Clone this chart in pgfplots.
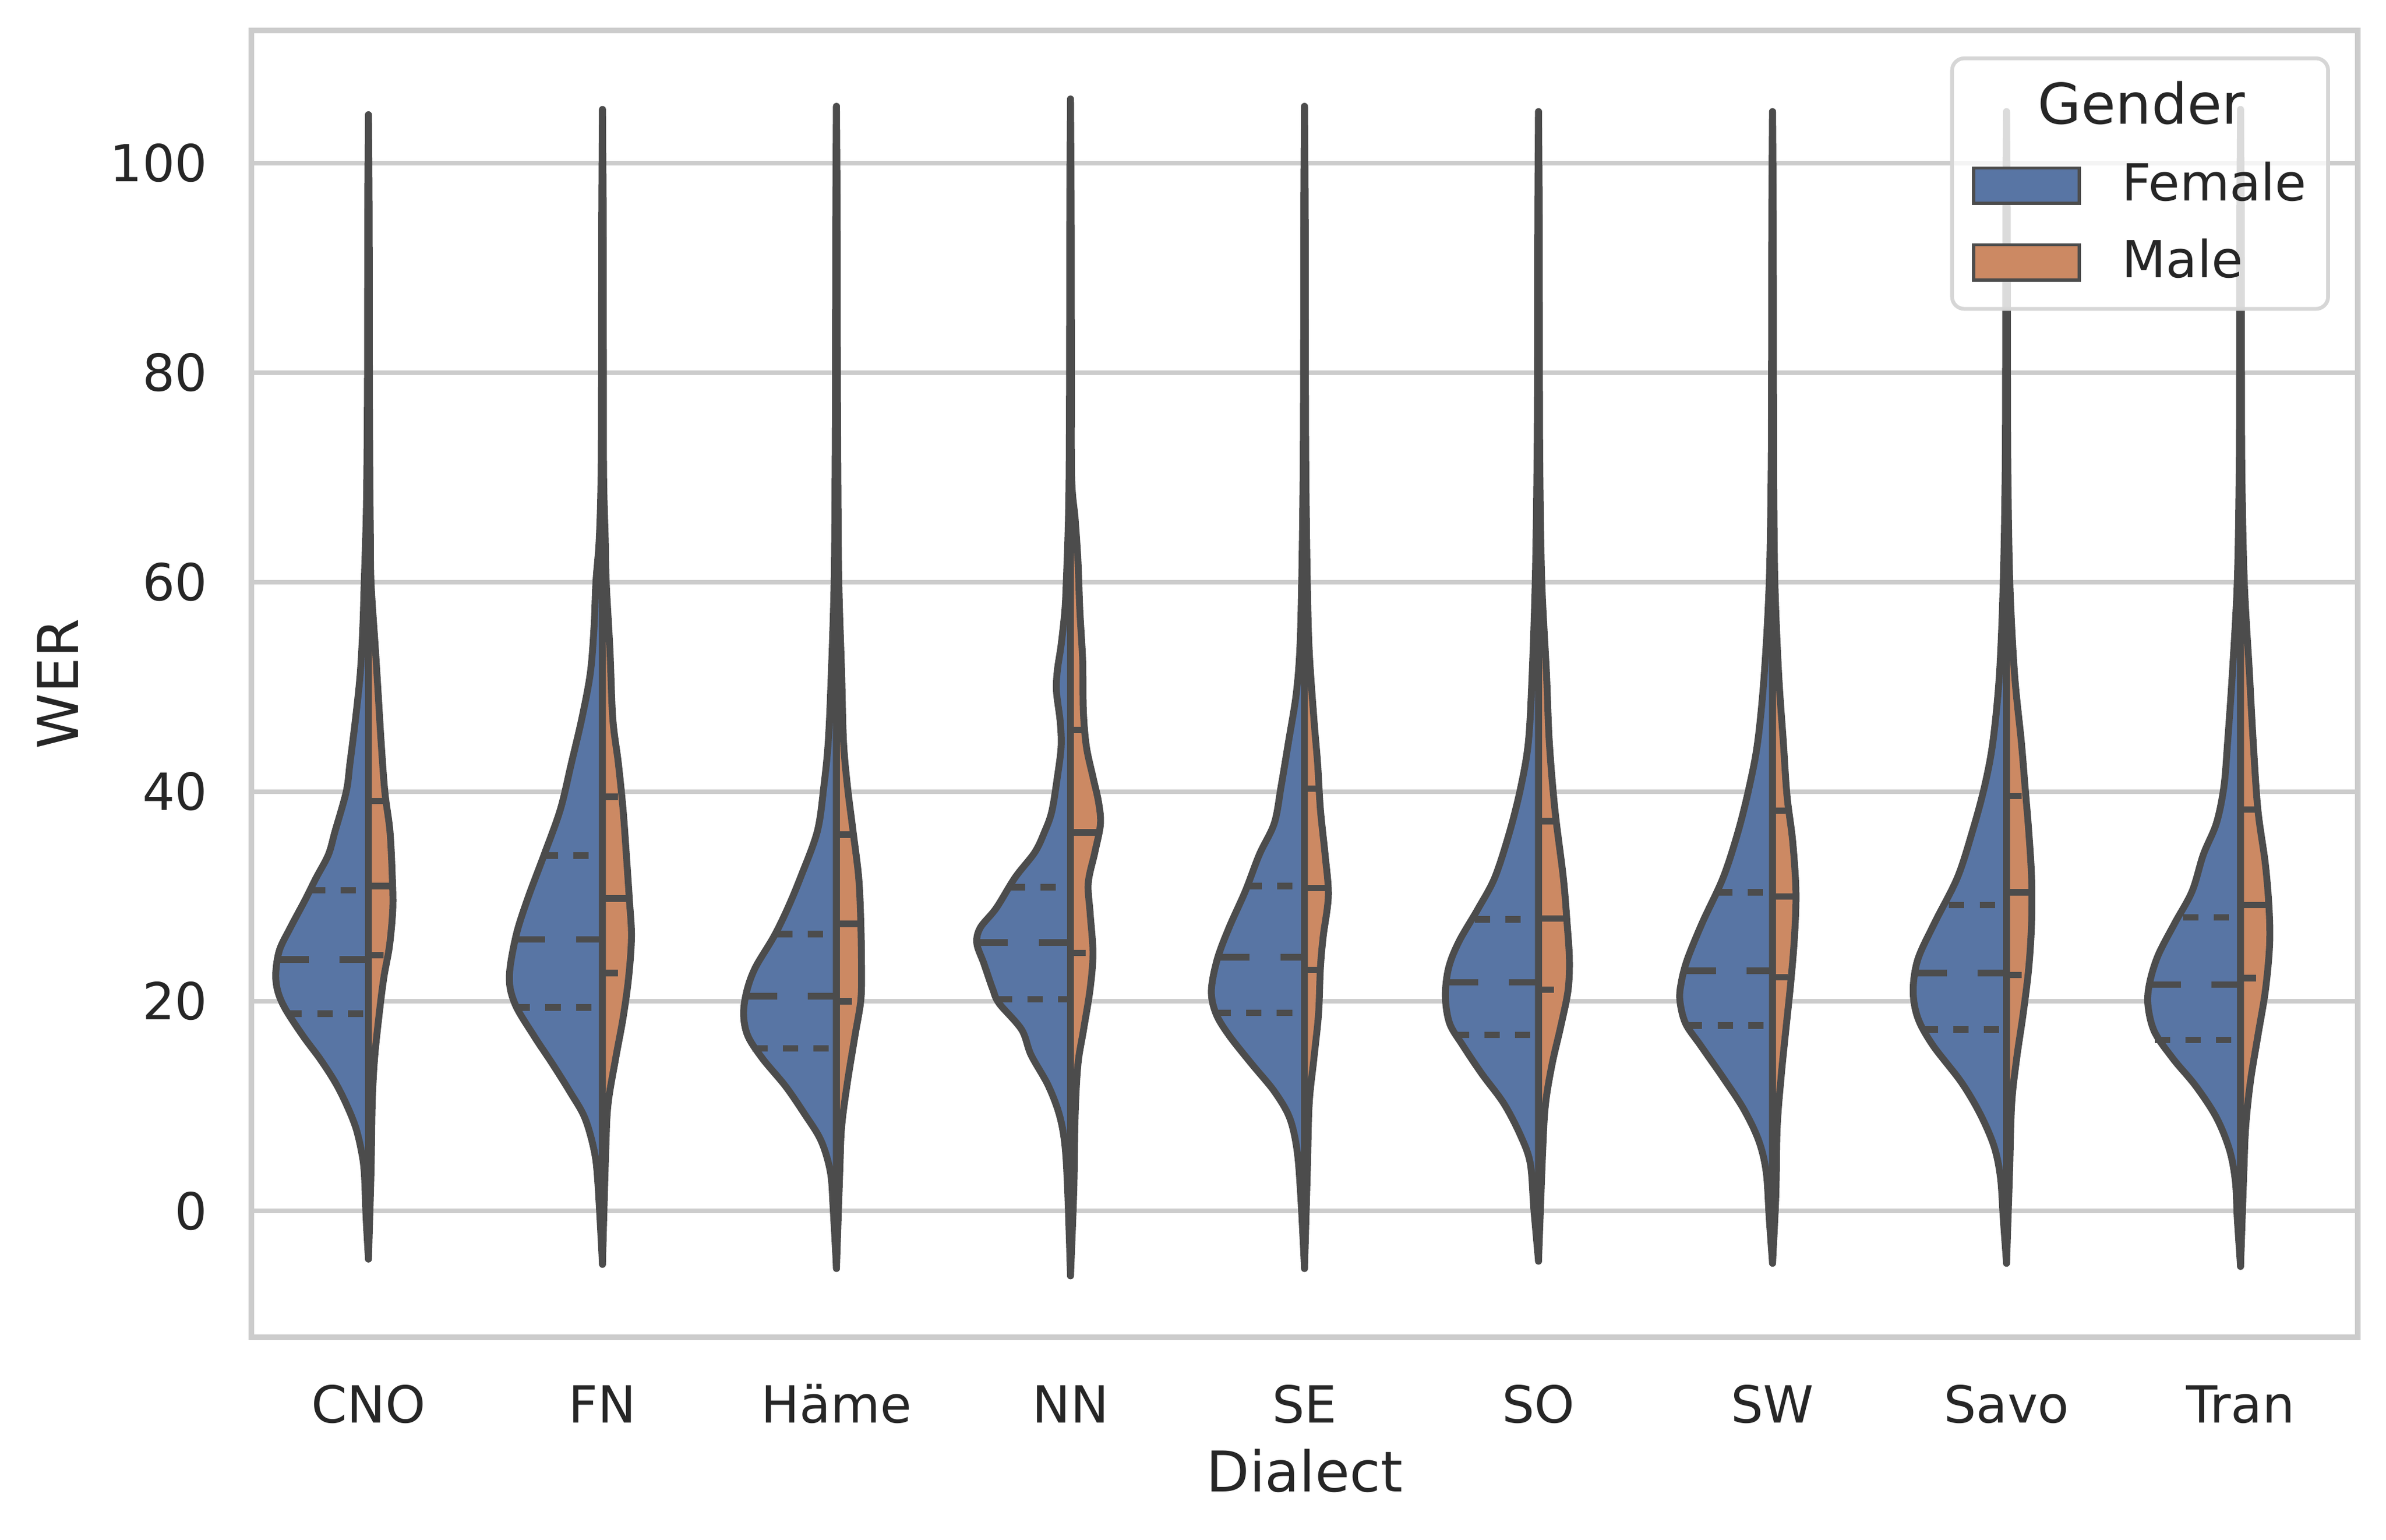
\documentclass[border=0pt]{standalone}
\usepackage{fontspec}
\setmainfont{DejaVu Sans}
\usepackage{pgfplots}
\pgfplotsset{compat=1.18}

\definecolor{femcol}{HTML}{5875A4}
\definecolor{malcol}{HTML}{CC8963}
\definecolor{edge}{HTML}{4C4C4C}
\definecolor{gridgray}{HTML}{CCCCCC}
\definecolor{leggray}{HTML}{D6D6D6}
\definecolor{textgray}{HTML}{262626}

\pgfplotsset{
  half/.style={forget plot, smooth, tension=0.55, draw=edge, line width=1.28pt, line join=round, line cap=round},
  fem/.style={half, fill=femcol},
  mal/.style={half, fill=malcol},
  quart/.style={forget plot, draw=edge, line width=1.22pt, dash pattern=on 2.85pt off 2.85pt},
  med/.style={forget plot, draw=edge, line width=1.22pt, dash pattern=on 5.7pt off 5.7pt},
}

\begin{document}
\begin{tikzpicture}
\useasboundingbox (0,0) rectangle (15.6,10.07);
\begin{axis}[
    at={(16.44mm,13.25mm)}, anchor=south west,
    scale only axis, width=137.7mm, height=85.46mm,
    xmin=-0.5, xmax=8.5, ymin=-12.06, ymax=112.65,
    xtick={0,...,8},
    xticklabels={CNO,FN,Häme,NN,SE,SO,SW,Savo,Tran},
    ytick={0,20,...,100},
    major tick length=0,
    ymajorgrids,
    grid style={gridgray, line width=0.84pt},
    axis line style={gridgray, line width=1.05pt},
    /pgf/number format/assume math mode=true,
    tick label style={font=\fontsize{9.5}{11}\selectfont, color=textgray},
    xticklabel style={anchor=base, inner sep=0pt, yshift=-5.6mm},
    yticklabel style={anchor=east, inner sep=0pt, xshift=-2.8mm},
    label style={font=\fontsize{10.45}{12}\selectfont, color=textgray},
    xlabel={Dialect}, ylabel={WER},
    xlabel style={at={(axis description cs:0.5,-0.102)}, anchor=center},
    ylabel style={at={(axis description cs:-0.092,0.5)}, anchor=center},
    legend cell align=left,
    legend image code/.code={\path (-0.6mm,0) (0,0);
      \draw[#1, sharp corners, fill opacity=1, draw opacity=1] (0mm,-1.15mm) rectangle (6.9mm,1.15mm);},
    legend style={at={(rel axis cs:1,1)}, anchor=north east, xshift=-1.8mm, yshift=-1.7mm,
      draw=leggray, line width=0.7pt, rounded corners=0.8mm, fill=white,
      fill opacity=0.8, text opacity=1,
      inner xsep=0.7mm, inner ysep=0.8mm, row sep=1.6pt, column sep=2.0mm,
      font=\fontsize{9.5}{11}\selectfont, text=textgray,
      nodes={inner sep=2pt, fill opacity=1, draw opacity=1, text opacity=1}},
]

% ---------- CNO ----------
\addplot[fem] table[x expr=0-\thisrow{w}, y=y, row sep=\\] {
y w\\ 104.6 0\\ 95 0.003\\ 80 0.004\\ 70 0.007\\ 65 0.011\\ 60 0.018\\ 55.7 0.024\\
51.3 0.035\\ 47 0.055\\ 42.7 0.079\\ 40 0.095\\ 36.2 0.143\\ 34 0.171\\ 31.8 0.223\\
29.7 0.27\\ 27.1 0.332\\ 24.9 0.38\\ 22.7 0.396\\ 21 0.388\\ 19.3 0.356\\ 16.7 0.28\\
14.5 0.207\\ 12.3 0.143\\ 10.2 0.095\\ 8 0.055\\ 5.8 0.031\\ 3.7 0.018\\ -0.7 0.01\\ -4.6 0\\
} -- cycle;
\addplot[mal] table[x expr=0+\thisrow{w}, y=y, row sep=\\] {
y w\\ 104.6 0\\ 95 0.003\\ 80 0.004\\ 70 0.006\\ 65 0.008\\ 60 0.011\\ 53.5 0.03\\
49.2 0.042\\ 44.8 0.054\\ 40 0.07\\ 36.2 0.092\\ 31.8 0.102\\ 28.8 0.104\\ 25.3 0.09\\
22.3 0.066\\ 18.8 0.046\\ 14.5 0.026\\ 10.2 0.016\\ 3.7 0.011\\ -4.6 0\\
} -- cycle;
\addplot[quart] coordinates {(-0.35,18.8) (0,18.8)};
\addplot[med] coordinates {(-0.385,24.0) (0,24.0)};
\addplot[quart] coordinates {(-0.25,30.6) (0,30.6)};
\addplot[quart] coordinates {(0,24.4) (0.078,24.4)};
\addplot[med] coordinates {(0,31.0) (0.098,31.0)};
\addplot[quart] coordinates {(0,39.1) (0.064,39.1)};

% ---------- FN ----------
\addplot[fem] table[x expr=1-\thisrow{w}, y=y, row sep=\\] {
y w\\ 105.1 0\\ 95 0.003\\ 80 0.004\\ 70 0.006\\ 64 0.014\\ 60 0.028\\ 55.7 0.036\\
51.3 0.052\\ 47 0.088\\ 42.7 0.133\\ 38.3 0.18\\ 34 0.249\\ 29.7 0.321\\ 26.2 0.37\\
22.3 0.398\\ 19.7 0.373\\ 16.7 0.293\\ 14 0.213\\ 11.4 0.14\\ 8.9 0.076\\ 5.8 0.036\\
2.8 0.02\\ -5.1 0\\
} -- cycle;
\addplot[mal] table[x expr=1+\thisrow{w}, y=y, row sep=\\] {
y w\\ 105.1 0\\ 95 0.003\\ 80 0.004\\ 70 0.005\\ 64 0.012\\ 60 0.016\\ 53.5 0.032\\
47 0.044\\ 42.7 0.068\\ 38.3 0.088\\ 34 0.102\\ 29.7 0.115\\ 26.2 0.124\\ 22.3 0.112\\
18.4 0.088\\ 14.5 0.056\\ 10.2 0.024\\ 5.8 0.014\\ -5.1 0\\
} -- cycle;
\addplot[quart] coordinates {(0.625,19.4) (1,19.4)};
\addplot[med] coordinates {(0.625,25.9) (1,25.9)};
\addplot[quart] coordinates {(0.745,33.9) (1,33.9)};
\addplot[quart] coordinates {(1,22.7) (1.078,22.7)};
\addplot[med] coordinates {(1,29.8) (1.11,29.8)};
\addplot[quart] coordinates {(1,39.5) (1.077,39.5)};

% ---------- Häme ----------
\addplot[fem] table[x expr=2-\thisrow{w}, y=y, row sep=\\] {
y w\\ 105.4 0\\ 95 0.003\\ 80 0.004\\ 70 0.006\\ 60 0.01\\ 51.3 0.022\\ 44.8 0.035\\
40.5 0.054\\ 36.2 0.082\\ 31.8 0.154\\ 28.8 0.21\\ 26.2 0.267\\ 23.2 0.347\\ 21 0.383\\
18.8 0.397\\ 16.7 0.379\\ 14.5 0.315\\ 11.9 0.218\\ 9.3 0.138\\ 6.7 0.066\\ 3.7 0.026\\
0.2 0.014\\ -5.5 0\\
} -- cycle;
\addplot[mal] table[x expr=2+\thisrow{w}, y=y, row sep=\\] {
y w\\ 105.4 0\\ 95 0.003\\ 80 0.004\\ 70 0.006\\ 60 0.01\\ 51.3 0.022\\ 44.8 0.03\\
40.5 0.047\\ 36.2 0.071\\ 31.8 0.095\\ 27.5 0.104\\ 23.2 0.107\\ 20.1 0.104\\ 16.7 0.079\\
12.3 0.047\\ 8 0.022\\ 3.7 0.014\\ -5.5 0\\
} -- cycle;
\addplot[quart] coordinates {(1.64,15.5) (2,15.5)};
\addplot[med] coordinates {(1.615,20.5) (2,20.5)};
\addplot[quart] coordinates {(1.747,26.4) (2,26.4)};
\addplot[quart] coordinates {(2,20.0) (2.08,20.0)};
\addplot[med] coordinates {(2,27.4) (2.10,27.4)};
\addplot[quart] coordinates {(2,35.9) (2.066,35.9)};

% ---------- NN ----------
\addplot[fem] table[x expr=3-\thisrow{w}, y=y, row sep=\\] {
y w\\ 106.1 0\\ 95 0.003\\ 80 0.004\\ 70 0.006\\ 65 0.01\\ 60 0.018\\ 57.3 0.024\\
54 0.04\\ 51.6 0.056\\ 49.6 0.06\\ 46.7 0.044\\ 44.3 0.04\\ 41.4 0.056\\ 38.1 0.08\\
36.1 0.112\\ 34.2 0.153\\ 31.8 0.237\\ 28.9 0.317\\ 27 0.386\\ 25.5 0.4\\ 23.6 0.37\\
21.2 0.333\\ 19.8 0.305\\ 17.3 0.209\\ 14.9 0.169\\ 12 0.096\\ 9.2 0.048\\ 6.3 0.024\\
1.9 0.012\\ -6.2 0\\
} -- cycle;
\addplot[mal] table[x expr=3+\thisrow{w}, y=y, row sep=\\] {
y w\\ 106.1 0\\ 95 0.003\\ 80 0.004\\ 70 0.005\\ 66 0.02\\ 62 0.032\\ 57.3 0.04\\
52.5 0.052\\ 47.7 0.055\\ 44.3 0.068\\ 41.4 0.096\\ 39 0.12\\ 36.9 0.128\\ 34.2 0.104\\
31.3 0.076\\ 28.4 0.084\\ 24.6 0.096\\ 21.2 0.084\\ 17.3 0.056\\ 14 0.032\\ 9.2 0.02\\
1.9 0.014\\ -6.2 0\\
} -- cycle;
\addplot[quart] coordinates {(2.685,20.2) (3,20.2)};
\addplot[med] coordinates {(2.602,25.6) (3,25.6)};
\addplot[quart] coordinates {(2.74,30.9) (3,30.9)};
\addplot[quart] coordinates {(3,24.6) (3.078,24.6)};
\addplot[med] coordinates {(3,36.1) (3.126,36.1)};
\addplot[quart] coordinates {(3,45.9) (3.052,45.9)};

% ---------- SE ----------
\addplot[fem] table[x expr=4-\thisrow{w}, y=y, row sep=\\] {
y w\\ 105.4 0\\ 95 0.003\\ 80 0.004\\ 70 0.006\\ 60 0.012\\ 53.5 0.02\\ 49.2 0.036\\
44.8 0.068\\ 40.5 0.1\\ 37 0.129\\ 34 0.193\\ 30.5 0.253\\ 27.1 0.321\\ 24 0.373\\
21 0.398\\ 18.8 0.378\\ 16.7 0.321\\ 14 0.225\\ 11.4 0.129\\ 8.9 0.064\\ 5.8 0.032\\
1.4 0.016\\ -5.5 0\\
} -- cycle;
\addplot[mal] table[x expr=4+\thisrow{w}, y=y, row sep=\\] {
y w\\ 105.4 0\\ 95 0.003\\ 80 0.004\\ 70 0.006\\ 60 0.012\\ 53.5 0.02\\ 47 0.04\\
42.7 0.056\\ 38.3 0.068\\ 34 0.088\\ 30.1 0.102\\ 26.2 0.08\\ 23.2 0.068\\ 18.8 0.06\\
14.5 0.04\\ 10.2 0.02\\ 3.7 0.012\\ -5.5 0\\
} -- cycle;
\addplot[quart] coordinates {(3.62,18.9) (4,18.9)};
\addplot[med] coordinates {(3.635,24.2) (4,24.2)};
\addplot[quart] coordinates {(3.753,31.0) (4,31.0)};
\addplot[quart] coordinates {(4,23.0) (4.065,23.0)};
\addplot[med] coordinates {(4,30.8) (4.098,30.8)};
\addplot[quart] coordinates {(4,40.3) (4.054,40.3)};

% ---------- SO ----------
\addplot[fem] table[x expr=5-\thisrow{w}, y=y, row sep=\\] {
y w\\ 104.9 0\\ 95 0.003\\ 80 0.004\\ 70 0.007\\ 60 0.014\\ 51.3 0.027\\ 44.8 0.043\\
40.5 0.075\\ 36.2 0.123\\ 31.8 0.187\\ 28.8 0.259\\ 25.7 0.34\\ 23.2 0.384\\ 20.5 0.398\\
17.9 0.38\\ 15.8 0.324\\ 13.1 0.243\\ 10.2 0.147\\ 7.1 0.075\\ 4.5 0.035\\ 0.2 0.02\\ -4.8 0\\
} -- cycle;
\addplot[mal] table[x expr=5+\thisrow{w}, y=y, row sep=\\] {
y w\\ 104.9 0\\ 95 0.003\\ 80 0.004\\ 70 0.006\\ 60 0.014\\ 51.3 0.034\\ 44.8 0.046\\
38.3 0.07\\ 31.8 0.106\\ 27.5 0.122\\ 24 0.132\\ 21 0.126\\ 17.5 0.094\\ 14 0.058\\
10.2 0.03\\ 5.8 0.018\\ -4.8 0\\
} -- cycle;
\addplot[quart] coordinates {(4.638,16.8) (5,16.8)};
\addplot[med] coordinates {(4.612,21.8) (5,21.8)};
\addplot[quart] coordinates {(4.727,27.8) (5,27.8)};
\addplot[quart] coordinates {(5,21.1) (5.078,21.1)};
\addplot[med] coordinates {(5,27.9) (5.12,27.9)};
\addplot[quart] coordinates {(5,37.2) (5.073,37.2)};

% ---------- SW ----------
\addplot[fem] table[x expr=6-\thisrow{w}, y=y, row sep=\\] {
y w\\ 104.9 0\\ 95 0.003\\ 80 0.004\\ 70 0.006\\ 60 0.014\\ 51.3 0.035\\ 44.8 0.063\\
40.5 0.099\\ 36.2 0.147\\ 31.8 0.211\\ 27.5 0.3\\ 24 0.364\\ 21.8 0.39\\ 20.1 0.396\\
17.9 0.372\\ 15.8 0.308\\ 12.7 0.211\\ 9.7 0.123\\ 6.7 0.059\\ 3.7 0.027\\ -0.7 0.014\\ -5.0 0\\
} -- cycle;
\addplot[mal] table[x expr=6+\thisrow{w}, y=y, row sep=\\] {
y w\\ 104.9 0\\ 95 0.003\\ 80 0.004\\ 70 0.005\\ 60 0.01\\ 51.3 0.026\\ 44.8 0.046\\
39.6 0.062\\ 35.3 0.086\\ 30.5 0.1\\ 26.2 0.094\\ 21.8 0.078\\ 17.5 0.058\\ 13.1 0.038\\
8 0.02\\ 1.4 0.014\\ -5.0 0\\
} -- cycle;
\addplot[quart] coordinates {(5.634,17.7) (6,17.7)};
\addplot[med] coordinates {(5.628,22.9) (6,22.9)};
\addplot[quart] coordinates {(5.763,30.4) (6,30.4)};
\addplot[quart] coordinates {(6,22.3) (6.074,22.3)};
\addplot[med] coordinates {(6,30.0) (6.094,30.0)};
\addplot[quart] coordinates {(6,38.2) (6.056,38.2)};

% ---------- Savo ----------
\addplot[fem] table[x expr=7-\thisrow{w}, y=y, row sep=\\] {
y w\\ 104.9 0\\ 95 0.003\\ 80 0.004\\ 70 0.006\\ 60 0.014\\ 51.3 0.03\\ 44.8 0.058\\
40.5 0.094\\ 36.2 0.146\\ 31.8 0.21\\ 27.5 0.307\\ 24 0.379\\ 21 0.399\\ 18.4 0.379\\
15.8 0.315\\ 12.3 0.194\\ 9.3 0.114\\ 6.2 0.054\\ 3.2 0.026\\ -0.7 0.014\\ -5.0 0\\
} -- cycle;
\addplot[mal] table[x expr=7+\thisrow{w}, y=y, row sep=\\] {
y w\\ 104.9 0\\ 95 0.003\\ 80 0.004\\ 70 0.006\\ 60 0.014\\ 51.3 0.034\\ 44.8 0.063\\
40.5 0.079\\ 36.2 0.095\\ 31.8 0.107\\ 27.5 0.107\\ 23.2 0.095\\ 18.8 0.071\\ 14.5 0.043\\
10.2 0.022\\ 3.7 0.013\\ -5.0 0\\
} -- cycle;
\addplot[quart] coordinates {(6.641,17.3) (7,17.3)};
\addplot[med] coordinates {(6.615,22.7) (7,22.7)};
\addplot[quart] coordinates {(6.754,29.2) (7,29.2)};
\addplot[quart] coordinates {(7,22.5) (7.078,22.5)};
\addplot[med] coordinates {(7,30.4) (7.105,30.4)};
\addplot[quart] coordinates {(7,39.6) (7.07,39.6)};

% ---------- Tran ----------
\addplot[fem] table[x expr=8-\thisrow{w}, y=y, row sep=\\] {
y w\\ 105.1 0\\ 95 0.003\\ 80 0.004\\ 70 0.006\\ 60 0.014\\ 51.3 0.035\\ 44.8 0.055\\
40.5 0.071\\ 37 0.103\\ 34 0.159\\ 30.5 0.207\\ 27.5 0.28\\ 24.4 0.352\\ 21.8 0.388\\
19.7 0.396\\ 17.1 0.368\\ 14.5 0.288\\ 11.9 0.191\\ 8.9 0.103\\ 5.8 0.047\\ 2.8 0.022\\
-0.7 0.014\\ -5.3 0\\
} -- cycle;
\addplot[mal] table[x expr=8+\thisrow{w}, y=y, row sep=\\] {
y w\\ 105.1 0\\ 95 0.003\\ 80 0.004\\ 70 0.006\\ 60 0.016\\ 51.3 0.038\\ 44.8 0.054\\
38.3 0.074\\ 33.1 0.106\\ 28.8 0.122\\ 25.3 0.124\\ 21 0.106\\ 16.7 0.074\\ 12.3 0.042\\
8 0.022\\ 3.7 0.014\\ -5.3 0\\
} -- cycle;
\addplot[quart] coordinates {(7.634,16.3) (8,16.3)};
\addplot[med] coordinates {(7.614,21.6) (8,21.6)};
\addplot[quart] coordinates {(7.755,28.0) (8,28.0)};
\addplot[quart] coordinates {(8,22.2) (8.08,22.2)};
\addplot[med] coordinates {(8,29.2) (8.118,29.2)};
\addplot[quart] coordinates {(8,38.3) (8.068,38.3)};

% ---------- legend ----------
\addlegendimage{empty legend}
\addlegendentry{\fontsize{10.45}{12}\selectfont\hspace*{-5.5mm}Gender}
\addlegendimage{fill=femcol, draw=edge, line width=0.6pt}
\addlegendentry{Female}
\addlegendimage{fill=malcol, draw=edge, line width=0.6pt}
\addlegendentry{Male}
\end{axis}
\end{tikzpicture}
\end{document}
